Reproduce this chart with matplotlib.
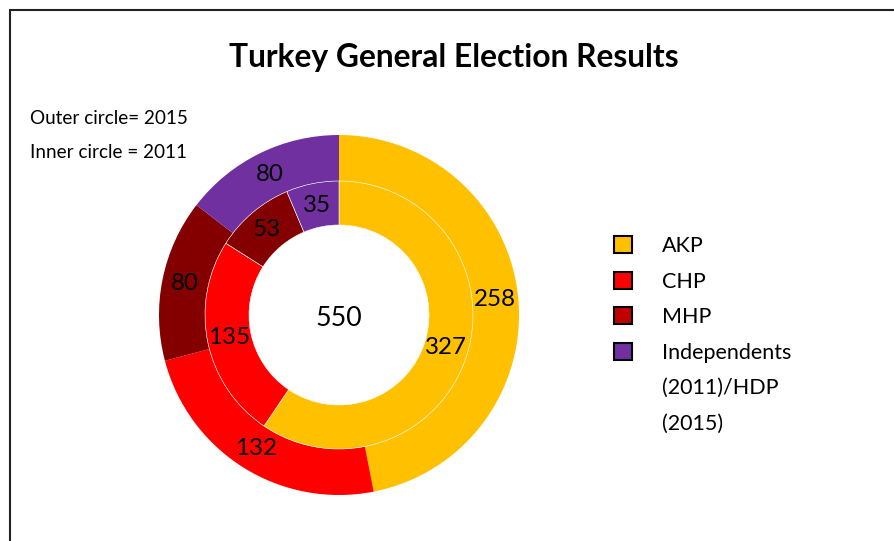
import matplotlib
matplotlib.use("Agg")
import matplotlib.pyplot as plt
from matplotlib.patches import Patch, Rectangle

plt.rcParams['font.family'] = ['Lato', 'DejaVu Sans']

parties = ["AKP", "CHP", "MHP", "Independents\n(2011)/HDP\n(2015)"]
seats_2015 = [258, 132, 80, 80]
seats_2011 = [327, 135, 53, 35]
ring_colors = ["#FFC000", "#FF0000", "#840000", "#7030A0"]
legend_colors = ["#FFC000", "#FF0000", "#C00000", "#7030A0"]
title = "Turkey General Election Results"
notes = ["Outer circle= 2015", "Inner circle = 2011"]

W, H = 895, 541
fig = plt.figure(figsize=(W / 100, H / 100), dpi=100)

# frame border
fig.patches.append(Rectangle((10 / W, -0.2), 2, 1.2 - 10 / H, transform=fig.transFigure,
                             fill=False, edgecolor="#222222", linewidth=1.5))

cx, cy, R = 339, 315, 180
ax = fig.add_axes([(cx - R) / W, (H - cy - R) / H, 2 * R / W, 2 * R / H])

total = sum(seats_2015)
r_outer = 1.0
r_mid = 134 / 180
r_hole = 90 / 180

def fmt(vals):
    t = sum(vals)
    return lambda p: f"{round(p * t / 100)}"

w1, t1, a1 = ax.pie(seats_2015, radius=r_outer, colors=ring_colors, startangle=90,
                    counterclock=False, autopct=fmt(seats_2015),
                    pctdistance=((r_outer + r_mid) / 2) / r_outer,
                    wedgeprops=dict(width=r_outer - r_mid, edgecolor="none"),
                    textprops=dict(fontsize=17.4, color="black"))
w2, t2, a2 = ax.pie(seats_2011, radius=r_mid, colors=ring_colors, startangle=90,
                    counterclock=False, autopct=fmt(seats_2011),
                    pctdistance=((r_mid + r_hole) / 2) / r_mid,
                    wedgeprops=dict(width=r_mid - r_hole, edgecolor="white", linewidth=0.4),
                    textprops=dict(fontsize=17.4, color="black"))
ax.text(0, -0.02, f"{total}", ha="center", va="center", fontsize=19.3)
ax.set_xlim(-1, 1)
ax.set_ylim(-1, 1)
ax.set_aspect("equal")
ax.axis("off")

fig.text(454 / W, 1 - 58 / H, title, ha="center", va="center", fontsize=22.9, fontweight="bold")
fig.text(30 / W, 1 - 119 / H, notes[0], ha="left", va="center", fontsize=13.6)
fig.text(30 / W, 1 - 153 / H, notes[1], ha="left", va="center", fontsize=13.6)

# legend: first line of each label carries the swatch, continuation lines have none
handles, labels = [], []
for c, lab in zip(legend_colors, parties):
    lines = lab.split("\n")
    handles.append(Patch(facecolor=c, edgecolor="black", linewidth=1.5))
    labels.append(lines[0])
    for extra in lines[1:]:
        handles.append(Patch(facecolor="none", edgecolor="none", visible=False))
        labels.append(extra)

fs = 15.5
leg = fig.legend(handles, labels, loc="upper left", bbox_to_anchor=(614 / W, 1 - 236 / H),
                 frameon=False, fontsize=fs, handlelength=0.85, handleheight=0.85,
                 handletextpad=1.4, labelspacing=0.72, borderpad=0, borderaxespad=0)

fig.savefig("out.png", dpi=100)
